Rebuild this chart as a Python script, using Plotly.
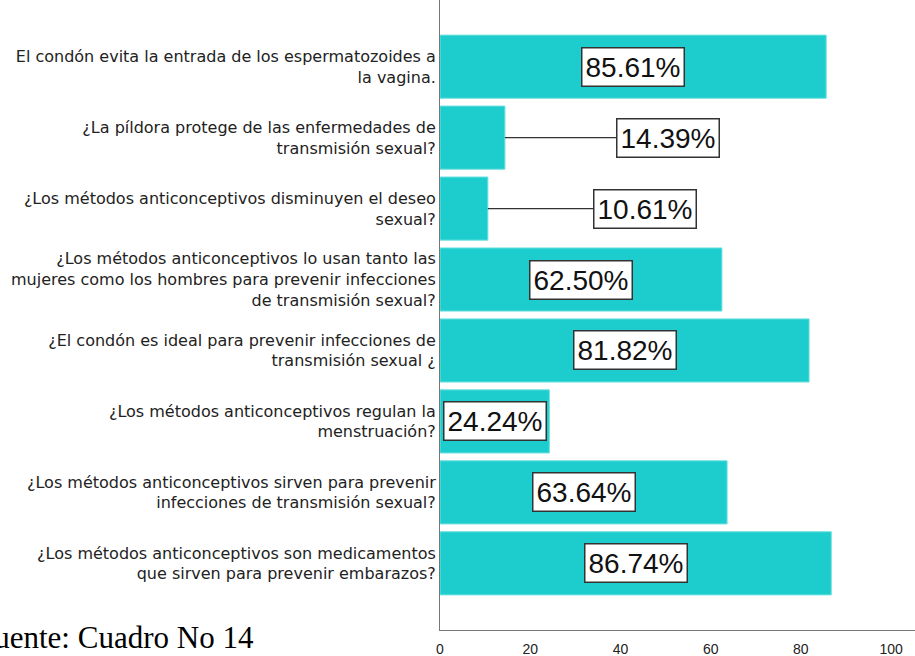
import plotly.graph_objects as go

# Data (top to bottom as in the chart)
categories = [
    "El condón evita la entrada de los espermatozoides a<br>la vagina.",
    "¿La píldora protege de las enfermedades de<br>transmisión sexual?",
    "¿Los métodos anticonceptivos disminuyen el deseo<br>sexual?",
    "¿Los métodos anticonceptivos lo usan tanto las<br>mujeres como los hombres para prevenir infecciones<br>de transmisión sexual?",
    "¿El condón es ideal para prevenir infecciones de<br>transmisión sexual ¿",
    "¿Los métodos anticonceptivos regulan la<br>menstruación?",
    "¿Los métodos anticonceptivos sirven para prevenir<br>infecciones de transmisión sexual?",
    "¿Los métodos anticonceptivos son medicamentos<br>que sirven para prevenir embarazos?",
]
values = [85.61, 14.39, 10.61, 62.50, 81.82, 24.24, 63.64, 86.74]
x_ticks = [0, 20, 40, 60, 80, 100]
source_text = "Fuente: Cuadro No 14"

# plot bottom-up so first category is at the top
cats_r = categories[::-1]
vals_r = values[::-1]

BAR = "#1DCDCD"
fig = go.Figure(go.Bar(
    y=cats_r, x=vals_r, orientation="h",
    marker=dict(color=BAR, line=dict(color="#6fe0e0", width=1)),
    width=0.89,
))

# label placement: inside bar for wide bars, leader line for narrow ones
outside_pos = {14.39: 50.6, 10.61: 45.5}
for c, v in zip(cats_r, vals_r):
    txt = f"{v:.2f}%"
    common = dict(text=txt, font=dict(family="Liberation Sans, Arial", size=28, color="#111"),
                  bgcolor="white", bordercolor="#333", borderwidth=1.5, borderpad=3,
                  yref="y", xref="x")
    if v in outside_pos:
        fig.add_annotation(x=v, y=c, ax=outside_pos[v], ay=c, axref="x", ayref="y",
                           showarrow=True, arrowhead=0, arrowwidth=1.3, arrowcolor="#333",
                           **common)
    else:
        fig.add_annotation(x=v / 2, y=c, showarrow=False, xanchor="center", **common)

fig.add_annotation(text=source_text, xref="paper", yref="paper", x=-(440 + 25) / 475, y=-26 / 630,
                   xanchor="left", yanchor="bottom", yshift=-1, showarrow=False,
                   font=dict(family="Liberation Serif, Times New Roman", size=31, color="#000"))

fig.update_layout(
    width=915, height=656,
    margin=dict(l=440, r=0, t=0, b=26, pad=0),
    paper_bgcolor="white", plot_bgcolor="white",
    showlegend=False,
    bargap=0.11,
    xaxis=dict(range=[0, 105.3], tickvals=x_ticks, ticktext=[str(t) for t in x_ticks],
               showgrid=False, zeroline=False, showline=True, linecolor="#777", linewidth=1,
               ticks="", ticklen=0, ticklabelstandoff=6,
               tickfont=dict(family="Liberation Sans Narrow, Arial Narrow, Liberation Sans", size=14, color="#222")),
    yaxis=dict(range=[-0.94, 7.94], showgrid=False, zeroline=False, showline=True,
               linecolor="#777", linewidth=1, ticks="", ticklen=0,
               tickfont=dict(family="DejaVu Sans, Verdana", size=16, color="#222")),
)

fig.write_html("out.html", config={"displayModeBar": False},
               post_script="document.body.style.margin='0';")
